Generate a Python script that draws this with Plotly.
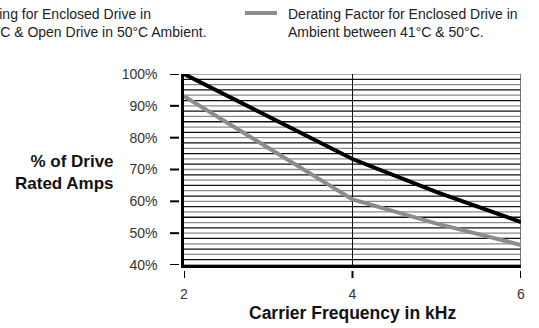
import numpy as np
import plotly.graph_objects as go

# ---- data ----
freq_khz = [2, 3, 4, 5, 6]
derating_40c = [100, 86.6, 73.3, 62.9, 53.5]      # black line
derating_41_50c = [93, 76.7, 60.6, 53.0, 46.3]    # gray line
x_ticks = [2, 4, 6]
y_ticks = [40, 50, 60, 70, 80, 90, 100]
y_tick_labels = ["40%", "50%", "60%", "70%", "80%", "90%", "100%"]
legend_left_lines = ["Derating for Enclosed Drive in", "40°C & Open Drive in 50°C Ambient."]
legend_right_text = "Derating Factor for Enclosed Drive in<br>Ambient between 41°C & 50°C."
x_title = "Carrier Frequency in kHz"
y_title = "% of Drive<br>Rated Amps"

FONT = "Liberation Sans, Arial, sans-serif"
W, H = 539, 328
L, R, T, B = 184, 18, 74, 63
pw, ph = W - L - R, H - T - B

def px_x(p):
    return (p - L) / pw

def px_y(p):
    return (H - B - p) / ph

fig = go.Figure()

# hatched background lines (alternating gray / black)
hatch = np.linspace(40, 100, 37)
shapes = []
for i, yv in enumerate(hatch):
    col = "#8a8a8a" if i % 2 == 0 else "#111111"
    shapes.append(dict(type="line", xref="x", yref="y", x0=2, x1=6, y0=yv, y1=yv,
                       line=dict(color=col, width=1.3), layer="below"))
# vertical line at 4 kHz and right border
shapes.append(dict(type="line", xref="x", yref="y", x0=4, x1=4, y0=40, y1=100,
                   line=dict(color="#111111", width=1), layer="below"))
shapes.append(dict(type="line", xref="x", yref="y", x0=6, x1=6, y0=40, y1=100,
                   line=dict(color="#555555", width=1.5), layer="below"))
# detached tick marks
for xv in x_ticks:
    shapes.append(dict(type="line", xref="x", yref="paper", x0=xv, x1=xv,
                       y0=px_y(271), y1=px_y(278), line=dict(color="black", width=2)))
for yv in y_ticks:
    shapes.append(dict(type="line", xref="paper", yref="y", x0=px_x(170), x1=px_x(179),
                       y0=yv, y1=yv, line=dict(color="black", width=2)))
# legend swatch (right item)
shapes.append(dict(type="line", xref="paper", yref="paper", x0=px_x(245), x1=px_x(277),
                   y0=px_y(13), y1=px_y(13), line=dict(color="#8c8c8c", width=4)))

fig.add_trace(go.Scatter(x=freq_khz, y=derating_41_50c, mode="lines",
                         line=dict(color="#8c8c8c", width=4), name="41-50C",
                         showlegend=False, cliponaxis=False))
fig.add_trace(go.Scatter(x=freq_khz, y=derating_40c, mode="lines",
                         line=dict(color="black", width=4), name="40C",
                         showlegend=False, cliponaxis=False))

annotations = [
    dict(text=legend_left_lines[0], xref="paper", yref="paper", x=px_x(153), y=px_y(14),
         xanchor="right", yanchor="middle", showarrow=False, align="left",
         font=dict(family=FONT, size=14, color="#222")),
    dict(text=legend_left_lines[1], xref="paper", yref="paper", x=px_x(209), y=px_y(32),
         xanchor="right", yanchor="middle", showarrow=False, align="left",
         font=dict(family=FONT, size=14, color="#222")),
    dict(text=legend_right_text, xref="paper", yref="paper", x=px_x(286), y=px_y(23),
         xanchor="left", yanchor="middle", showarrow=False, align="left",
         font=dict(family=FONT, size=14, color="#222")),
    dict(text="<b>" + y_title.replace("<br>", "</b><br><b>") + "</b>", xref="paper", yref="paper",
         x=px_x(116), y=px_y(172), xanchor="right", yanchor="middle", showarrow=False,
         align="right", font=dict(family=FONT, size=17, color="#111")),
    dict(text="<b>" + x_title + "</b>", xref="x", yref="paper", x=4, y=px_y(313),
         xanchor="center", yanchor="middle", showarrow=False,
         font=dict(family=FONT, size=17.5, color="#111")),
]

fig.update_layout(
    width=W, height=H,
    margin=dict(l=L, r=R, t=T, b=B, pad=0),
    paper_bgcolor="white", plot_bgcolor="white",
    shapes=shapes, annotations=annotations,
    xaxis=dict(range=[2, 6], tickvals=x_ticks, ticktext=[str(v) for v in x_ticks],
               showgrid=False, zeroline=False, showline=True, linecolor="black",
               linewidth=2.5, ticks="", ticklabelstandoff=14,
               tickfont=dict(family=FONT, size=14, color="#333")),
    yaxis=dict(range=[40, 100], tickvals=y_ticks, ticktext=y_tick_labels,
               showgrid=False, zeroline=False, showline=True, linecolor="black",
               linewidth=2.5, ticks="", ticklabelstandoff=21,
               tickfont=dict(family=FONT, size=14, color="#333")),
)

fig.write_html("out.html", config={"displayModeBar": False},
               post_script="document.body.style.margin='0';")
